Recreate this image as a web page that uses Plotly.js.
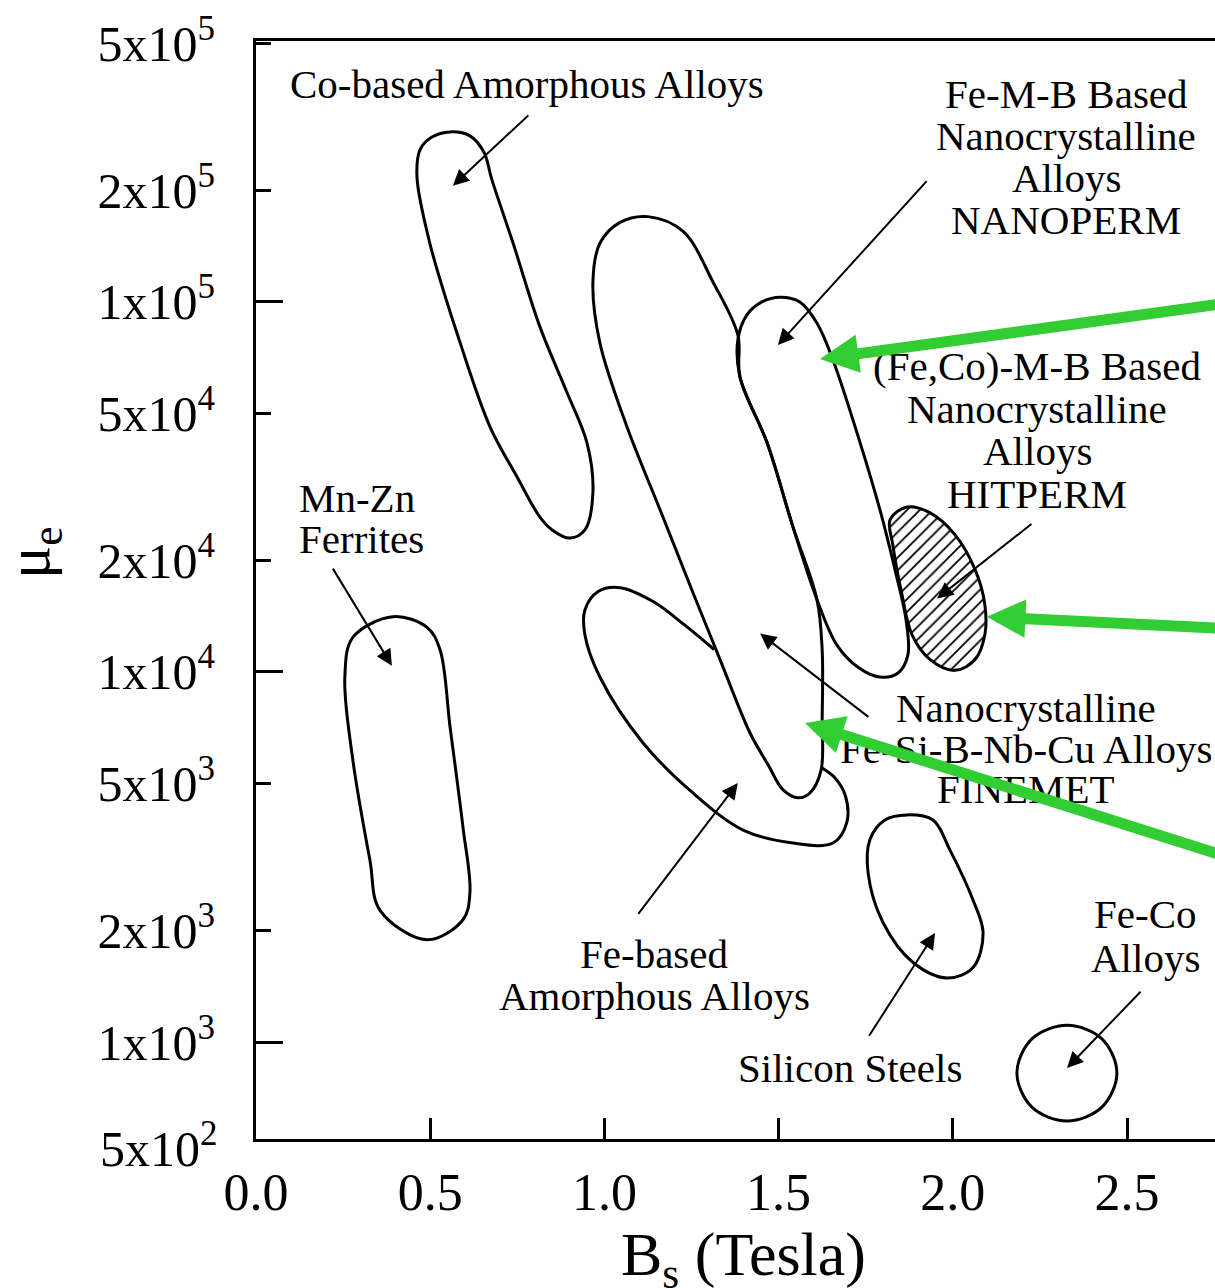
<!DOCTYPE html>
<html>
<head>
<meta charset="utf-8">
<script src="https://cdn.plot.ly/plotly-3.0.1.min.js"></script>
<style>html,body{margin:0;padding:0;overflow:hidden;background:#fff;}</style>
</head>
<body>
<div id="chart"></div>
<script>
// ---------- tick labels ----------
const bsTickVals = [0, 0.5, 1.0, 1.5, 2.0, 2.5];
const bsTickText = ['0.0', '0.5', '1.0', '1.5', '2.0', '2.5'];
const muTickVals = [1e3, 2e3, 5e3, 1e4, 2e4, 5e4, 1e5, 2e5, 5e5];
const muTickText = ['1x10<sup>3</sup>', '2x10<sup>3</sup>', '5x10<sup>3</sup>',
                    '1x10<sup>4</sup>', '2x10<sup>4</sup>', '5x10<sup>4</sup>',
                    '1x10<sup>5</sup>', '2x10<sup>5</sup>', '5x10<sup>5</sup>'];
const muDecades = [1e3, 1e4, 1e5];
const muBottomLabel = '5x10<sup>2</sup>';
const xTitle = 'B<sub>s</sub> (Tesla)';
const yTitle = 'μ<sub>e</sub>';

// ---------- region outlines (Bs in Tesla, effective permeability) ----------
const coBasedBs = [0.738, 0.815, 0.893, 0.950, 0.967, 0.944, 0.901, 0.850, 0.815, 0.749, 0.672, 0.586, 0.499, 0.462, 0.471, 0.505, 0.557, 0.614, 0.654, 0.677, 0.738];
const coBasedMu = [1.44e5, 8.56e4, 5.68e4, 4.16e4, 3.05e4, 2.42e4, 2.30e4, 2.42e4, 2.62e4, 3.37e4, 4.59e4, 7.75e4, 1.44e5, 2.18e5, 2.58e5, 2.79e5, 2.88e5, 2.81e5, 2.54e5, 2.14e5, 1.44e5];

const finemetBs = [1.383, 1.389, 1.467, 1.541, 1.610, 1.625, 1.625, 1.622, 1.590, 1.556, 1.513, 1.470, 1.418, 1.332, 1.254, 1.160, 1.065, 0.987, 0.967, 0.987, 1.045, 1.125, 1.226, 1.312, 1.383];
const finemetMu = [8.14e4, 6.27e4, 4.16e4, 2.47e4, 1.57e4, 1.15e4, 7.42e3, 5.43e3, 4.71e3, 4.57e3, 4.80e3, 5.61e3, 6.84e3, 1.08e4, 1.64e4, 2.74e4, 4.59e4, 7.75e4, 1.13e5, 1.44e5, 1.64e5, 1.70e5, 1.55e5, 1.13e5, 8.14e4];

const nanopermBs = [1.734, 1.791, 1.834, 1.866, 1.871, 1.843, 1.791, 1.728, 1.668, 1.610, 1.541, 1.467, 1.389, 1.383, 1.409, 1.452, 1.504, 1.561, 1.610, 1.656, 1.734];
const nanopermMu = [4.16e4, 2.74e4, 1.89e4, 1.38e4, 1.11e4, 9.94e3, 9.69e3, 1.03e4, 1.18e4, 1.57e4, 2.47e4, 4.16e4, 6.27e4, 7.89e4, 9.22e4, 1.00e5, 1.03e5, 1.00e5, 8.77e4, 6.97e4, 4.16e4];

const hitpermBs = [1.828, 1.820, 1.869, 1.935, 2.006, 2.064, 2.092, 2.092, 2.064, 2.006, 1.935, 1.883, 1.854, 1.828];
const hitpermMu = [2.20e4, 2.58e4, 2.79e4, 2.69e4, 2.35e4, 1.89e4, 1.52e4, 1.26e4, 1.08e4, 1.01e4, 1.08e4, 1.26e4, 1.62e4, 2.20e4];

const feBasedBs = [1.315, 1.230, 1.140, 1.045, 0.982, 0.944, 0.944, 0.987, 1.111, 1.254, 1.398, 1.541, 1.656, 1.696, 1.691, 1.662, 1.625];
const feBasedMu = [1.15e4, 1.34e4, 1.55e4, 1.69e4, 1.65e4, 1.47e4, 1.26e4, 9.69e3, 6.43e3, 4.71e3, 3.74e3, 3.45e3, 3.45e3, 3.93e3, 4.65e3, 5.17e3, 5.50e3];

const mnZnBs = [0.278, 0.255, 0.278, 0.393, 0.491, 0.528, 0.557, 0.594, 0.614, 0.594, 0.491, 0.356, 0.327, 0.278];
const mnZnMu = [5.78e3, 9.69e3, 1.24e4, 1.41e4, 1.32e4, 1.15e4, 7.10e3, 3.81e3, 2.53e3, 2.14e3, 1.89e3, 2.27e3, 3.10e3, 5.78e3];

const siSteelBs = [1.757, 1.762, 1.805, 1.869, 1.943, 1.992, 2.058, 2.087, 2.058, 1.983, 1.886, 1.800, 1.757];
const siSteelMu = [2.86e3, 3.52e3, 3.98e3, 4.11e3, 3.98e3, 3.30e3, 2.42e3, 1.97e3, 1.59e3, 1.49e3, 1.64e3, 2.10e3, 2.86e3];

const feCoBs = [2.471, 2.428, 2.328, 2.227, 2.184, 2.227, 2.328, 2.428, 2.471];
const feCoMu = [824, 667, 612, 667, 824, 1020, 1110, 1020, 824];

// ---------- label texts ----------
const labelCo = ['Co-based Amorphous Alloys'];
const labelNanoperm = ['Fe-M-B Based', 'Nanocrystalline', 'Alloys', 'NANOPERM'];
const labelHitperm = ['(Fe,Co)-M-B Based', 'Nanocrystalline', 'Alloys', 'HITPERM'];
const labelFinemet = ['Nanocrystalline', 'Fe-Si-B-Nb-Cu Alloys', 'FINEMET'];
const labelMnZn = ['Mn-Zn', 'Ferrites'];
const labelFeBased = ['Fe-based', 'Amorphous Alloys'];
const labelSi = ['Silicon Steels'];
const labelFeCo = ['Fe-Co', 'Alloys'];

// ---------- layout geometry ----------
const FONT = 'Liberation Serif, Times New Roman, Times, serif';
const W = 1240, H = 1288;
const PL = 256, PR = 1230, PT = 41, PB = 1139;
const xMax = (PR - PL) / 348.4;
const yRange = [2.738, 5.705];
const px2x = p => (p - PL) / (PR - PL);
const py2y = p => (PB - p) / (PB - PT);

function outline(bs, mu, extra) {
  return Object.assign({
    type: 'scatter', mode: 'lines', x: bs, y: mu,
    line: {color: 'black', width: 3, shape: 'spline', smoothing: 1},
    hoverinfo: 'skip', showlegend: false
  }, extra || {});
}

const traces = [
  outline(coBasedBs, coBasedMu),
  outline(finemetBs, finemetMu),
  outline(nanopermBs, nanopermMu),
  outline(feBasedBs, feBasedMu),
  outline(mnZnBs, mnZnMu),
  outline(siSteelBs, siSteelMu),
  outline(hitpermBs, hitpermMu, {
    fill: 'toself', fillcolor: 'white',
    fillpattern: {shape: '/', fgcolor: 'black', bgcolor: 'white', size: 9, solidity: 0.2}
  }),
  outline(feCoBs, feCoMu, {yaxis: 'y2'})
];

const annotations = [];
function textBlock(lines, cx, firstCy, spacing, anchor) {
  lines.forEach((t, i) => {
    annotations.push({
      xref: 'paper', yref: 'paper', x: px2x(cx), y: py2y(firstCy + i * spacing),
      text: t, showarrow: false, xanchor: anchor || 'center', yanchor: 'middle',
      font: {family: FONT, size: 41, color: 'black'}
    });
  });
}
textBlock(labelCo, 527, 84, 42);
textBlock(labelNanoperm, 1066, 94, 42);
textBlock(labelHitperm, 1037, 366, 42.6);
textBlock(labelFinemet, 1026, 708, 40.5);
textBlock(labelMnZn, 297, 498, 41, 'left');
textBlock(labelFeBased, 654, 954, 42);
textBlock(labelSi, 850, 1068, 42);
textBlock(labelFeCo, 1145, 914, 44);

function arrow(tailBs, tailMu, headBs, headMu, opts) {
  annotations.push(Object.assign({
    xref: 'x', yref: 'y', axref: 'x', ayref: 'y',
    x: headBs, y: Math.log10(headMu), ax: tailBs, ay: Math.log10(tailMu),
    text: '', showarrow: true, arrowhead: 2, arrowsize: 1.6, arrowwidth: 2,
    arrowcolor: 'black', standoff: 0
  }, opts || {}));
}
arrow(0.786, 3.22e5, 0.565, 2.06e5);
arrow(1.929, 2.14e5, 1.498, 7.65e4);
arrow(2.230, 2.53e4, 1.955, 1.58e4);
arrow(1.762, 7.51e3, 1.447, 1.27e4);
arrow(1.094, 2.20e3, 1.383, 5.01e3);
arrow(0.218, 1.92e4, 0.390, 1.04e4);
arrow(1.757, 1.03e3, 1.949, 1.97e3);
arrow(2.543, 1.38e3, 2.328, 851);

const green = {arrowcolor: 'rgb(50,205,50)', arrowwidth: 11, arrowsize: 0.7, arrowhead: 2};
arrow(2.790, 9.93e4, 1.619, 7.01e4, green);
arrow(2.790, 1.31e4, 2.098, 1.41e4, green);
arrow(2.790, 3.16e3, 1.576, 7.28e3, green);

// axis-related texts
annotations.push({
  xref: 'paper', yref: 'paper', x: px2x(220), y: 0, yshift: -6,
  text: muBottomLabel, showarrow: false, xanchor: 'right', yanchor: 'middle',
  font: {family: FONT, size: 50, color: 'black'}
});
annotations.push({
  xref: 'paper', yref: 'paper', x: px2x(743), y: py2y(1258),
  text: xTitle, showarrow: false, xanchor: 'center', yanchor: 'middle',
  font: {family: FONT, size: 62, color: 'black'}
});
annotations.push({
  xref: 'paper', yref: 'paper', x: px2x(32), y: py2y(553),
  text: yTitle, showarrow: false, xanchor: 'center', yanchor: 'middle', textangle: -90,
  font: {family: FONT, size: 62, color: 'black'}
});

const layout = {
  width: W, height: H,
  margin: {l: PL, r: W - PR, t: PT, b: H - PB, pad: 0},
  paper_bgcolor: 'white', plot_bgcolor: 'white',
  showlegend: false,
  font: {family: FONT, color: 'black'},
  xaxis: {
    range: [0, xMax], tickmode: 'array', tickvals: bsTickVals, ticktext: bsTickText,
    ticks: 'inside', ticklen: 21, tickwidth: 3, tickcolor: 'black',
    showline: true, linewidth: 3, linecolor: 'black', mirror: true,
    showgrid: false, zeroline: false, fixedrange: true,
    tickfont: {family: FONT, size: 52, color: 'black'}, ticklabelstandoff: 6
  },
  yaxis: {
    type: 'log', range: yRange, tickmode: 'array', tickvals: muTickVals, ticktext: muTickText,
    ticks: 'inside', ticklen: 15, tickwidth: 3, tickcolor: 'black',
    showline: true, linewidth: 3, linecolor: 'black', mirror: true,
    showgrid: false, zeroline: false, fixedrange: true,
    tickfont: {family: FONT, size: 50, color: 'black'}, ticklabelstandoff: 28
  },
  yaxis2: {
    type: 'log', range: yRange, overlaying: 'y', side: 'left', anchor: 'x',
    tickmode: 'array', tickvals: muDecades, ticks: 'inside', ticklen: 27, tickwidth: 3,
    tickcolor: 'black', showticklabels: false, showline: false, showgrid: false,
    zeroline: false, fixedrange: true
  },
  annotations: annotations
};

Plotly.newPlot('chart', traces, layout, {displayModeBar: false, staticPlot: true});
</script>
</body>
</html>
